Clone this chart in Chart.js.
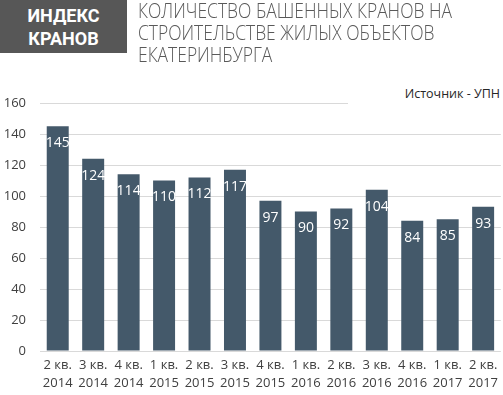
<!DOCTYPE html>
<html>
<head>
<meta charset="utf-8">
<script src="https://cdn.jsdelivr.net/npm/chart.js@4"></script>
<style>
  html, body { margin: 0; padding: 0; background: #fff; }
  #wrap { position: relative; width: 503px; height: 395px; overflow: hidden; }
  #chart { position: absolute; left: 0; top: 0; }
  .badge {
    position: absolute; left: 0; top: 0; width: 127px; height: 53px;
    background: #575757; color: #fff; font: bold 18px Roboto, sans-serif;
    line-height: 23px; text-align: center; padding-top: 4px; box-sizing: border-box;
  }
  .title {
    position: absolute; left: 138px; top: 0px; color: #595959; white-space: nowrap;
    font: 300 20px "Open Sans", sans-serif; line-height: 22px; transform-origin: 0 0;
  }
  .source {
    position: absolute; left: 348px; top: 84px; width: 155px; height: 22px;
    background: #fff; color: #262626; font: 12.5px "Open Sans", sans-serif;
    text-align: right; padding-right: 3px; box-sizing: border-box; line-height: 20px;
  }
</style>
</head>
<body>
<div id="wrap">
  <canvas id="chart" width="503" height="395"></canvas>
  <div class="badge">ИНДЕКС<br>КРАНОВ</div>
  <div class="title" id="title"><span id="t1">КОЛИЧЕСТВО БАШЕННЫХ КРАНОВ НА</span><br>СТРОИТЕЛЬСТВЕ ЖИЛЫХ ОБЪЕКТОВ<br>ЕКАТЕРИНБУРГА</div>
  <div class="source">Источник - УПН</div>
</div>
<script>
const quarters = ["2 кв.", "3 кв.", "4 кв.", "1 кв.", "2 кв.", "3 кв.", "4 кв.", "1 кв.", "2 кв.", "3 кв.", "4 кв.", "1 кв.", "2 кв."];
const years = ["2014", "2014", "2014", "2015", "2015", "2015", "2015", "2016", "2016", "2016", "2016", "2017", "2017"];
const cranes = [145, 124, 114, 110, 112, 117, 97, 90, 92, 104, 84, 85, 93];
const yTicks = [0, 20, 40, 60, 80, 100, 120, 140, 160];

const barColor = "#44596a";
const tickFont = { family: "'Open Sans', sans-serif", size: 13, lineHeight: 1.4 };

// squeeze the title to the narrow look of the original
const t1 = document.getElementById("t1");
document.getElementById("title").style.transform = "scaleX(" + (314 / t1.getBoundingClientRect().width) + ")";

// white value labels just inside the top of each bar
const insideLabels = {
  id: "insideLabels",
  afterDatasetsDraw(chart) {
    const ctx = chart.ctx;
    const meta = chart.getDatasetMeta(0);
    ctx.save();
    ctx.fillStyle = "#fff";
    ctx.font = "14px 'Open Sans', sans-serif";
    ctx.textAlign = "center";
    ctx.textBaseline = "middle";
    meta.data.forEach((bar, i) => {
      ctx.fillText(cranes[i], bar.x, bar.y + 17);
    });
    ctx.restore();
  }
};

new Chart(document.getElementById("chart"), {
  type: "bar",
  data: {
    labels: quarters.map((q, i) => [q, years[i]]),
    datasets: [{
      data: cranes,
      backgroundColor: barColor,
      barPercentage: 0.62,
      categoryPercentage: 1
    }]
  },
  options: {
    responsive: false,
    animation: false,
    layout: { padding: { top: 103, left: 0, right: 0, bottom: 0 } },
    plugins: { legend: { display: false }, tooltip: { enabled: false } },
    scales: {
      x: {
        grid: { display: false, drawTicks: false },
        border: { display: false },
        ticks: { color: "#404040", font: tickFont, padding: 5, maxRotation: 0, autoSkip: false },
        afterFit: s => { s.height = 44; }
      },
      y: {
        min: 0, max: 160,
        afterBuildTicks: s => { s.ticks = yTicks.map(v => ({ value: v })); },
        grid: { color: "#d9d9d9", drawTicks: false },
        border: { display: false },
        ticks: { color: "#404040", font: { family: "'Open Sans', sans-serif", size: 13 }, padding: 14 },
        afterFit: s => { s.width = 40; }
      }
    }
  },
  plugins: [insideLabels]
});
</script>
</body>
</html>
